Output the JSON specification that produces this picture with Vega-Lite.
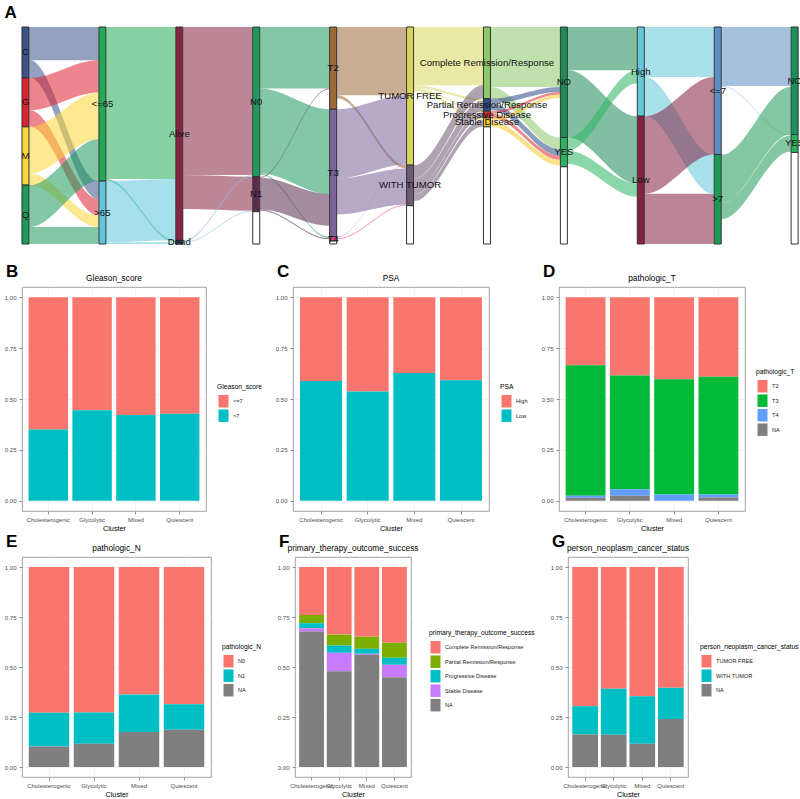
{
"$schema":"https://vega.github.io/schema/vega-lite/v6.json",
"padding":{"left":3,"top":3,"right":0,"bottom":0},
"background":"white",
"datasets":{
"flows":[
{"id":1,"k":"C","x":[0.05,0.06,0.94,0.95],"lo":[0,0,0,0],"hi":[100,100,100,100]},
{"id":2,"k":"C","x":[0.05,0.06,0.94,0.95],"lo":[100,100,463,463],"hi":[153,153,516,516]},
{"id":3,"k":"G","x":[0.05,0.06,0.94,0.95],"lo":[153,153,100,100],"hi":[250,250,197,197]},
{"id":4,"k":"G","x":[0.05,0.06,0.94,0.95],"lo":[250,250,516,516],"hi":[300,300,566,566]},
{"id":5,"k":"M","x":[0.05,0.06,0.94,0.95],"lo":[300,300,197,197],"hi":[440,440,337,337]},
{"id":6,"k":"M","x":[0.05,0.06,0.94,0.95],"lo":[440,440,566,566],"hi":[475,475,601,601]},
{"id":7,"k":"Q","x":[0.05,0.06,0.94,0.95],"lo":[475,475,337,337],"hi":[601,601,463,463]},
{"id":8,"k":"Q","x":[0.05,0.06,0.94,0.95],"lo":[601,601,601,601],"hi":[652,652,652,652]},
{"id":9,"k":"A1","x":[1.05,1.06,1.94,1.95],"lo":[0,0,0,0],"hi":[457,457,457,457]},
{"id":10,"k":"A1","x":[1.05,1.06,1.94,1.95],"lo":[457,457,641,641],"hi":[463,463,647,647]},
{"id":11,"k":"A2","x":[1.05,1.06,1.94,1.95],"lo":[463,463,457,457],"hi":[647,647,641,641]},
{"id":12,"k":"A2","x":[1.05,1.06,1.94,1.95],"lo":[647,647,647,647],"hi":[652,652,652,652]},
{"id":13,"k":"Alive","x":[2.05,2.06,2.94,2.95],"lo":[0,0,0,0],"hi":[445,445,445,445]},
{"id":14,"k":"Alive","x":[2.05,2.06,2.94,2.95],"lo":[445,445,450,450],"hi":[547,547,552,552]},
{"id":15,"k":"DeadF","x":[2.05,2.06,2.94,2.95],"lo":[641,641,445,445],"hi":[646,646,450,450]},
{"id":16,"k":"DeadF","x":[2.05,2.06,2.94,2.95],"lo":[646,646,552,552],"hi":[649,649,555,555]},
{"id":17,"k":"N0","x":[3.05,3.06,3.94,3.95],"lo":[0,0,0,0],"hi":[185,185,185,185]},
{"id":18,"k":"N0","x":[3.05,3.06,3.94,3.95],"lo":[185,185,247,247],"hi":[440,440,502,502]},
{"id":19,"k":"N0","x":[3.05,3.06,3.94,3.95],"lo":[440,440,630,630],"hi":[444,444,634,634]},
{"id":20,"k":"N1","x":[3.05,3.06,3.94,3.95],"lo":[450,450,185,185],"hi":[453,453,188,188]},
{"id":21,"k":"N1","x":[3.05,3.06,3.94,3.95],"lo":[453,453,502,502],"hi":[548,548,597,597]},
{"id":22,"k":"N1","x":[3.05,3.06,3.94,3.95],"lo":[548,548,634,634],"hi":[552,552,638,638]},
{"id":23,"k":"T2","x":[4.05,4.06,4.94,4.95],"lo":[0,0,0,0],"hi":[205,205,205,205]},
{"id":24,"k":"T2","x":[4.05,4.06,4.94,4.95],"lo":[205,205,415,415],"hi":[215,215,425,425]},
{"id":25,"k":"T3","x":[4.05,4.06,4.94,4.95],"lo":[247,247,205,205],"hi":[455,455,413,413]},
{"id":26,"k":"T3","x":[4.05,4.06,4.94,4.95],"lo":[455,455,425,425],"hi":[563,563,533,533]},
{"id":27,"k":"T4","x":[4.05,4.06,4.94,4.95],"lo":[630,630,413,413],"hi":[632,632,415,415]},
{"id":28,"k":"T4","x":[4.05,4.06,4.94,4.95],"lo":[634,634,533,533],"hi":[637,637,536,536]},
{"id":29,"k":"TF","x":[5.05,5.06,5.94,5.95],"lo":[0,0,0,0],"hi":[175,175,175,175]},
{"id":30,"k":"TF","x":[5.05,5.06,5.94,5.95],"lo":[175,175,215,215],"hi":[182,182,222,222]},
{"id":31,"k":"TF","x":[5.05,5.06,5.94,5.95],"lo":[182,182,253,253],"hi":[185,185,256,256]},
{"id":32,"k":"TF","x":[5.05,5.06,5.94,5.95],"lo":[185,185,273,273],"hi":[192,192,280,280]},
{"id":33,"k":"WT","x":[5.05,5.06,5.94,5.95],"lo":[415,415,175,175],"hi":[455,455,215,215]},
{"id":34,"k":"WT","x":[5.05,5.06,5.94,5.95],"lo":[455,455,222,222],"hi":[486,486,253,253]},
{"id":35,"k":"WT","x":[5.05,5.06,5.94,5.95],"lo":[486,486,256,256],"hi":[503,503,273,273]},
{"id":36,"k":"WT","x":[5.05,5.06,5.94,5.95],"lo":[503,503,280,280],"hi":[523,523,300,300]},
{"id":37,"k":"CR","x":[6.05,6.06,6.94,6.95],"lo":[0,0,0,0],"hi":[180,180,180,180]},
{"id":38,"k":"CR","x":[6.05,6.06,6.94,6.95],"lo":[180,180,332,332],"hi":[215,215,367,367]},
{"id":39,"k":"PR","x":[6.05,6.06,6.94,6.95],"lo":[215,215,180,180],"hi":[230,230,195,195]},
{"id":40,"k":"PR","x":[6.05,6.06,6.94,6.95],"lo":[230,230,367,367],"hi":[250,250,387,387]},
{"id":41,"k":"PD","x":[6.05,6.06,6.94,6.95],"lo":[253,253,195,195],"hi":[261,261,203,203]},
{"id":42,"k":"PD","x":[6.05,6.06,6.94,6.95],"lo":[261,261,387,387],"hi":[273,273,399,399]},
{"id":43,"k":"SD","x":[6.05,6.06,6.94,6.95],"lo":[273,273,203,203],"hi":[283,283,213,213]},
{"id":44,"k":"SD","x":[6.05,6.06,6.94,6.95],"lo":[283,283,399,399],"hi":[300,300,416,416]},
{"id":45,"k":"RNO","x":[7.05,7.06,7.94,7.95],"lo":[0,0,0,0],"hi":[130,130,130,130]},
{"id":46,"k":"RNO","x":[7.05,7.06,7.94,7.95],"lo":[130,130,268,268],"hi":[332,332,470,470]},
{"id":47,"k":"RYES","x":[7.05,7.06,7.94,7.95],"lo":[332,332,130,130],"hi":[372,372,170,170]},
{"id":48,"k":"RYES","x":[7.05,7.06,7.94,7.95],"lo":[372,372,470,470],"hi":[412,412,510,510]},
{"id":49,"k":"High","x":[8.05,8.06,8.94,8.95],"lo":[0,0,0,0],"hi":[150,150,150,150]},
{"id":50,"k":"High","x":[8.05,8.06,8.94,8.95],"lo":[150,150,383,383],"hi":[268,268,501,501]},
{"id":51,"k":"Low","x":[8.05,8.06,8.94,8.95],"lo":[268,268,150,150],"hi":[501,501,383,383]},
{"id":52,"k":"Low","x":[8.05,8.06,8.94,8.95],"lo":[501,501,501,501],"hi":[652,652,652,652]},
{"id":53,"k":"G7","x":[9.05,9.06,9.94,9.95],"lo":[0,0,0,0],"hi":[177,177,177,177]},
{"id":54,"k":"DeadF","x":[9.05,9.06,9.94,9.95],"lo":[177,177,323,323],"hi":[180,180,326,326]},
{"id":55,"k":"G8","x":[9.05,9.06,9.94,9.95],"lo":[383,383,180,180],"hi":[528,528,323,323]},
{"id":56,"k":"G8","x":[9.05,9.06,9.94,9.95],"lo":[528,528,326,326],"hi":[577,577,375,375]}
],
"nodes":[
{"axis":0,"k":"C","label":"C","lo":0,"hi":153},
{"axis":0,"k":"G","label":"G","lo":153,"hi":300},
{"axis":0,"k":"M","label":"M","lo":300,"hi":475},
{"axis":0,"k":"Q","label":"Q","lo":475,"hi":652},
{"axis":1,"k":"A1","label":"<=65","lo":0,"hi":463},
{"axis":1,"k":"A2","label":">65","lo":463,"hi":652},
{"axis":2,"k":"Alive","label":"Alive","lo":0,"hi":641},
{"axis":2,"k":"Dead","label":"Dead","lo":641,"hi":652},
{"axis":3,"k":"N0","label":"N0","lo":0,"hi":450},
{"axis":3,"k":"N1","label":"N1","lo":450,"hi":555},
{"axis":3,"k":"NA","label":"","lo":555,"hi":652},
{"axis":4,"k":"T2","label":"T2","lo":0,"hi":247},
{"axis":4,"k":"T3","label":"T3","lo":247,"hi":630},
{"axis":4,"k":"T4","label":"T4","lo":630,"hi":643},
{"axis":4,"k":"NA","label":"","lo":643,"hi":652},
{"axis":5,"k":"TF","label":"TUMOR FREE","lo":0,"hi":415},
{"axis":5,"k":"WT","label":"WITH TUMOR","lo":415,"hi":537},
{"axis":5,"k":"NA","label":"","lo":537,"hi":652},
{"axis":6,"k":"CR","label":"Complete Remission/Response","lo":0,"hi":215},
{"axis":6,"k":"PR","label":"Partial Remission/Response","lo":215,"hi":253},
{"axis":6,"k":"PD","label":"Progressive Disease","lo":253,"hi":273},
{"axis":6,"k":"SD","label":"Stable Disease","lo":273,"hi":300},
{"axis":6,"k":"NA","label":"","lo":300,"hi":652},
{"axis":7,"k":"RNO","label":"NO","lo":0,"hi":332},
{"axis":7,"k":"RYES","label":"YES","lo":332,"hi":420},
{"axis":7,"k":"NA","label":"","lo":420,"hi":652},
{"axis":8,"k":"High","label":"High","lo":0,"hi":268},
{"axis":8,"k":"Low","label":"Low","lo":268,"hi":652},
{"axis":9,"k":"G7","label":"<=7","lo":0,"hi":383},
{"axis":9,"k":"G8","label":">7","lo":383,"hi":652},
{"axis":10,"k":"SNO","label":"NO","lo":0,"hi":323},
{"axis":10,"k":"SYES","label":"YES","lo":323,"hi":377},
{"axis":10,"k":"NA","label":"","lo":377,"hi":652}
],
"gleason":[
{"Cluster":"Cholesterogenic","level":"<=7","ord":0,"value":0.650},{"Cluster":"Cholesterogenic","level":">7","ord":1,"value":0.350},
{"Cluster":"Glycolytic","level":"<=7","ord":0,"value":0.555},{"Cluster":"Glycolytic","level":">7","ord":1,"value":0.445},
{"Cluster":"Mixed","level":"<=7","ord":0,"value":0.578},{"Cluster":"Mixed","level":">7","ord":1,"value":0.422},
{"Cluster":"Quiescent","level":"<=7","ord":0,"value":0.573},{"Cluster":"Quiescent","level":">7","ord":1,"value":0.427}
],
"psa":[
{"Cluster":"Cholesterogenic","level":"High","ord":0,"value":0.412},{"Cluster":"Cholesterogenic","level":"Low","ord":1,"value":0.588},
{"Cluster":"Glycolytic","level":"High","ord":0,"value":0.463},{"Cluster":"Glycolytic","level":"Low","ord":1,"value":0.537},
{"Cluster":"Mixed","level":"High","ord":0,"value":0.372},{"Cluster":"Mixed","level":"Low","ord":1,"value":0.628},
{"Cluster":"Quiescent","level":"High","ord":0,"value":0.408},{"Cluster":"Quiescent","level":"Low","ord":1,"value":0.592}
],
"pT":[
{"Cluster":"Cholesterogenic","level":"T2","ord":0,"value":0.334},{"Cluster":"Cholesterogenic","level":"T3","ord":1,"value":0.641},{"Cluster":"Cholesterogenic","level":"T4","ord":2,"value":0.010},{"Cluster":"Cholesterogenic","level":"NA","ord":3,"value":0.015},
{"Cluster":"Glycolytic","level":"T2","ord":0,"value":0.385},{"Cluster":"Glycolytic","level":"T3","ord":1,"value":0.558},{"Cluster":"Glycolytic","level":"T4","ord":2,"value":0.032},{"Cluster":"Glycolytic","level":"NA","ord":3,"value":0.025},
{"Cluster":"Mixed","level":"T2","ord":0,"value":0.403},{"Cluster":"Mixed","level":"T3","ord":1,"value":0.566},{"Cluster":"Mixed","level":"T4","ord":2,"value":0.031},
{"Cluster":"Quiescent","level":"T2","ord":0,"value":0.391},{"Cluster":"Quiescent","level":"T3","ord":1,"value":0.578},{"Cluster":"Quiescent","level":"T4","ord":2,"value":0.015},{"Cluster":"Quiescent","level":"NA","ord":3,"value":0.016}
],
"pN":[
{"Cluster":"Cholesterogenic","level":"N0","ord":0,"value":0.729},{"Cluster":"Cholesterogenic","level":"N1","ord":1,"value":0.168},{"Cluster":"Cholesterogenic","level":"NA","ord":2,"value":0.103},
{"Cluster":"Glycolytic","level":"N0","ord":0,"value":0.727},{"Cluster":"Glycolytic","level":"N1","ord":1,"value":0.157},{"Cluster":"Glycolytic","level":"NA","ord":2,"value":0.116},
{"Cluster":"Mixed","level":"N0","ord":0,"value":0.637},{"Cluster":"Mixed","level":"N1","ord":1,"value":0.188},{"Cluster":"Mixed","level":"NA","ord":2,"value":0.175},
{"Cluster":"Quiescent","level":"N0","ord":0,"value":0.686},{"Cluster":"Quiescent","level":"N1","ord":1,"value":0.128},{"Cluster":"Quiescent","level":"NA","ord":2,"value":0.186}
],
"therapy":[
{"Cluster":"Cholesterogenic","level":"Complete Remission/Response","ord":0,"value":0.240},{"Cluster":"Cholesterogenic","level":"Partial Remission/Response","ord":1,"value":0.041},{"Cluster":"Cholesterogenic","level":"Progressive Disease","ord":2,"value":0.025},{"Cluster":"Cholesterogenic","level":"Stable Disease","ord":3,"value":0.017},{"Cluster":"Cholesterogenic","level":"NA","ord":4,"value":0.677},
{"Cluster":"Glycolytic","level":"Complete Remission/Response","ord":0,"value":0.338},{"Cluster":"Glycolytic","level":"Partial Remission/Response","ord":1,"value":0.055},{"Cluster":"Glycolytic","level":"Progressive Disease","ord":2,"value":0.036},{"Cluster":"Glycolytic","level":"Stable Disease","ord":3,"value":0.092},{"Cluster":"Glycolytic","level":"NA","ord":4,"value":0.479},
{"Cluster":"Mixed","level":"Complete Remission/Response","ord":0,"value":0.349},{"Cluster":"Mixed","level":"Partial Remission/Response","ord":1,"value":0.060},{"Cluster":"Mixed","level":"Progressive Disease","ord":2,"value":0.025},{"Cluster":"Mixed","level":"Stable Disease","ord":3,"value":0.005},{"Cluster":"Mixed","level":"NA","ord":4,"value":0.561},
{"Cluster":"Quiescent","level":"Complete Remission/Response","ord":0,"value":0.379},{"Cluster":"Quiescent","level":"Partial Remission/Response","ord":1,"value":0.075},{"Cluster":"Quiescent","level":"Progressive Disease","ord":2,"value":0.035},{"Cluster":"Quiescent","level":"Stable Disease","ord":3,"value":0.062},{"Cluster":"Quiescent","level":"NA","ord":4,"value":0.449}
],
"status":[
{"Cluster":"Cholesterogenic","level":"TUMOR FREE","ord":0,"value":0.696},{"Cluster":"Cholesterogenic","level":"WITH TUMOR","ord":1,"value":0.141},{"Cluster":"Cholesterogenic","level":"NA","ord":2,"value":0.163},
{"Cluster":"Glycolytic","level":"TUMOR FREE","ord":0,"value":0.609},{"Cluster":"Glycolytic","level":"WITH TUMOR","ord":1,"value":0.230},{"Cluster":"Glycolytic","level":"NA","ord":2,"value":0.161},
{"Cluster":"Mixed","level":"TUMOR FREE","ord":0,"value":0.646},{"Cluster":"Mixed","level":"WITH TUMOR","ord":1,"value":0.238},{"Cluster":"Mixed","level":"NA","ord":2,"value":0.116},
{"Cluster":"Quiescent","level":"TUMOR FREE","ord":0,"value":0.604},{"Cluster":"Quiescent","level":"WITH TUMOR","ord":1,"value":0.156},{"Cluster":"Quiescent","level":"NA","ord":2,"value":0.240}
]
},
"spacing":15,
"resolve":{"scale":{"color":"independent","x":"independent","y":"independent"},"legend":{"color":"independent"}},
"vconcat":[
{
"width":778,"height":217,
"title":{"text":"A","anchor":"start","fontSize":17,"fontWeight":"bold","offset":5,"dx":-17},
"view":{"stroke":null},
"layer":[
{"data":{"name":"flows"},"transform":[{"flatten":["x","lo","hi"]}],
"mark":{"type":"area","interpolate":"monotone","opacity":0.55},
"encoding":{
"x":{"field":"x","type":"quantitative","scale":{"domain":[-0.0455,10.07],"nice":false,"zero":false,"padding":0},"axis":null},
"y":{"field":"lo","type":"quantitative","stack":null,"scale":{"domain":[0,652],"reverse":true,"nice":false,"zero":false,"padding":0},"axis":null},
"y2":{"field":"hi"},
"color":{"field":"k","type":"nominal","legend":null,"scale":{
"domain":["C","G","M","Q","A1","A2","Alive","Dead","DeadF","N0","N1","T2","T3","T4","TF","WT","CR","PR","PD","SD","RNO","RYES","High","Low","G7","G8","SNO","SYES","NA"],
"range":["#3b528b","#dc2130","#fcd738","#1b9a5b","#23a955","#5fc6dc","#862543","#2e3f66","#8fbbe3","#1f995c","#5a2b4d","#9a6a3a","#7a659b","#e8458b","#d8d55b","#6f5871","#8cc96b","#2d4b88","#dc2a2e","#f4c82c","#1c8b56","#2cb462","#62c9da","#842042","#5c8ec2","#1e9a58","#1b9058","#28b15f","#ffffff"]}},
"detail":{"field":"id"}
}},
{"data":{"name":"nodes"},
"mark":{"type":"bar","width":7,"stroke":"#333","strokeWidth":1},
"encoding":{
"x":{"field":"axis","type":"quantitative"},
"y":{"field":"lo","type":"quantitative","stack":null},
"y2":{"field":"hi"},
"color":{"field":"k","type":"nominal","legend":null}
}},
{"data":{"name":"nodes"},"transform":[{"calculate":"(datum.lo+datum.hi)/2","as":"mid"}],
"mark":{"type":"text","fontSize":9.6,"fill":"#111"},
"encoding":{
"x":{"field":"axis","type":"quantitative"},
"y":{"field":"mid","type":"quantitative"},
"text":{"field":"label"}
}}
]
},
{"spacing":1,"resolve":{"scale":{"color":"independent","x":"independent","y":"independent"},"legend":{"color":"independent"}},"vconcat":[
{"spacing":12,"resolve":{"scale":{"color":"independent","x":"independent","y":"independent"},"legend":{"color":"independent"}},"hconcat":[
{"title":{"text":"B","anchor":"start","fontSize":17,"fontWeight":"bold","offset":-8,"dx":2},"hconcat":[
{"width":184,"height":224,"title":{"text":"Gleason_score","fontSize":8.3,"offset":5},"data":{"name":"gleason"},"mark":"bar",
"encoding":{
"x":{"field":"Cluster","type":"nominal","scale":{"paddingInner":0.1,"paddingOuter":0.15},"axis":{"title":"Cluster","labelAngle":0,"labelOverlap":false,"grid":true,"bandPosition":0.5,"labelPadding":2}},
"y":{"field":"value","type":"quantitative","stack":"zero","scale":{"domain":[-0.05,1.05],"nice":false,"zero":false},"axis":{"title":null,"values":[0,0.25,0.5,0.75,1],"format":".2f","grid":true}},
"color":{"field":"level","type":"nominal","title":"Gleason_score","scale":{"domain":["<=7",">7"],"range":["#F8766D","#00BFC4"]}},
"order":{"field":"ord","type":"quantitative","sort":"descending"}}}]},
{"title":{"text":"C","anchor":"start","fontSize":17,"fontWeight":"bold","offset":-8,"dx":2},"hconcat":[
{"width":196,"height":224,"title":{"text":"PSA","fontSize":8.3,"offset":5},"data":{"name":"psa"},"mark":"bar",
"encoding":{
"x":{"field":"Cluster","type":"nominal","scale":{"paddingInner":0.1,"paddingOuter":0.15},"axis":{"title":"Cluster","labelAngle":0,"labelOverlap":false,"grid":true,"bandPosition":0.5,"labelPadding":2}},
"y":{"field":"value","type":"quantitative","stack":"zero","scale":{"domain":[-0.05,1.05],"nice":false,"zero":false},"axis":{"title":null,"values":[0,0.25,0.5,0.75,1],"format":".2f","grid":true}},
"color":{"field":"level","type":"nominal","title":"PSA","scale":{"domain":["High","Low"],"range":["#F8766D","#00BFC4"]}},
"order":{"field":"ord","type":"quantitative","sort":"descending"}}}]},
{"title":{"text":"D","anchor":"start","fontSize":17,"fontWeight":"bold","offset":-8,"dx":2},"hconcat":[
{"width":186,"height":224,"title":{"text":"pathologic_T","fontSize":8.3,"offset":5},"data":{"name":"pT"},"mark":"bar",
"encoding":{
"x":{"field":"Cluster","type":"nominal","scale":{"paddingInner":0.1,"paddingOuter":0.15},"axis":{"title":"Cluster","labelAngle":0,"labelOverlap":false,"grid":true,"bandPosition":0.5,"labelPadding":2}},
"y":{"field":"value","type":"quantitative","stack":"zero","scale":{"domain":[-0.05,1.05],"nice":false,"zero":false},"axis":{"title":null,"values":[0,0.25,0.5,0.75,1],"format":".2f","grid":true}},
"color":{"field":"level","type":"nominal","title":"pathologic_T","scale":{"domain":["T2","T3","T4","NA"],"range":["#F8766D","#00BA38","#619CFF","#7F7F7F"]}},
"order":{"field":"ord","type":"quantitative","sort":"descending"}}}]}
]},
{"spacing":14,"resolve":{"scale":{"color":"independent","x":"independent","y":"independent"},"legend":{"color":"independent"}},"hconcat":[
{"title":{"text":"E","anchor":"start","fontSize":17,"fontWeight":"bold","offset":-8,"dx":2},"hconcat":[
{"width":189,"height":220,"title":{"text":"pathologic_N","fontSize":8.3,"offset":5},"data":{"name":"pN"},"mark":"bar",
"encoding":{
"x":{"field":"Cluster","type":"nominal","scale":{"paddingInner":0.1,"paddingOuter":0.15},"axis":{"title":"Cluster","labelAngle":0,"labelOverlap":false,"grid":true,"bandPosition":0.5,"labelPadding":2}},
"y":{"field":"value","type":"quantitative","stack":"zero","scale":{"domain":[-0.05,1.05],"nice":false,"zero":false},"axis":{"title":null,"values":[0,0.25,0.5,0.75,1],"format":".2f","grid":true}},
"color":{"field":"level","type":"nominal","title":"pathologic_N","scale":{"domain":["N0","N1","NA"],"range":["#F8766D","#00BFC4","#7F7F7F"]}},
"order":{"field":"ord","type":"quantitative","sort":"descending"}}}]},
{"title":{"text":"F","anchor":"start","fontSize":17,"fontWeight":"bold","offset":-8,"dx":2},"hconcat":[
{"width":116,"height":220,"title":{"text":"primary_therapy_outcome_success","fontSize":8.3,"offset":5},"data":{"name":"therapy"},"mark":"bar",
"encoding":{
"x":{"field":"Cluster","type":"nominal","scale":{"paddingInner":0.1,"paddingOuter":0.15},"axis":{"title":"Cluster","labelAngle":0,"labelOverlap":false,"grid":true,"bandPosition":0.5,"labelPadding":2}},
"y":{"field":"value","type":"quantitative","stack":"zero","scale":{"domain":[-0.05,1.05],"nice":false,"zero":false},"axis":{"title":null,"values":[0,0.25,0.5,0.75,1],"format":".2f","grid":true}},
"color":{"field":"level","type":"nominal","title":"primary_therapy_outcome_success","scale":{"domain":["Complete Remission/Response","Partial Remission/Response","Progressive Disease","Stable Disease","NA"],"range":["#F8766D","#7CAE00","#00BFC4","#C77CFF","#7F7F7F"]}},
"order":{"field":"ord","type":"quantitative","sort":"descending"}}}]},
{"title":{"text":"G","anchor":"start","fontSize":17,"fontWeight":"bold","offset":-8,"dx":2},"hconcat":[
{"width":120,"height":220,"title":{"text":"person_neoplasm_cancer_status","fontSize":8.3,"offset":5},"data":{"name":"status"},"mark":"bar",
"encoding":{
"x":{"field":"Cluster","type":"nominal","scale":{"paddingInner":0.1,"paddingOuter":0.15},"axis":{"title":"Cluster","labelAngle":0,"labelOverlap":false,"grid":true,"bandPosition":0.5,"labelPadding":2}},
"y":{"field":"value","type":"quantitative","stack":"zero","scale":{"domain":[-0.05,1.05],"nice":false,"zero":false},"axis":{"title":null,"values":[0,0.25,0.5,0.75,1],"format":".2f","grid":true}},
"color":{"field":"level","type":"nominal","title":"person_neoplasm_cancer_status","scale":{"domain":["TUMOR FREE","WITH TUMOR","NA"],"range":["#F8766D","#00BFC4","#7F7F7F"]}},
"order":{"field":"ord","type":"quantitative","sort":"descending"}}}]}
]}
]}
],
"config":{
"font":"Liberation Sans",
"view":{"stroke":"#8a8a8a","strokeWidth":0.8},
"title":{"color":"#000","fontWeight":"normal"},
"axis":{"minExtent":0,"labelFontSize":6,"labelColor":"#4d4d4d","tickColor":"#444","tickSize":3,"tickWidth":0.6,"domain":false,"gridColor":"#ebebeb","gridWidth":0.6,"titleFontSize":7.3,"titleFontWeight":"normal","titleColor":"#000","labelPadding":3,"titlePadding":2},
"legend":{"titleFontSize":6.7,"titleFontWeight":"normal","titleColor":"#000","labelFontSize":5.6,"labelColor":"#222","symbolType":"M-0.8,-1H0.8V1H-0.8Z","symbolSize":156,"symbolStrokeWidth":0,"symbolOpacity":1,"rowPadding":1.5,"titlePadding":4,"labelOffset":3,"offset":10,"padding":0,"layout":{"right":{"anchor":"middle"}}}
}
}
